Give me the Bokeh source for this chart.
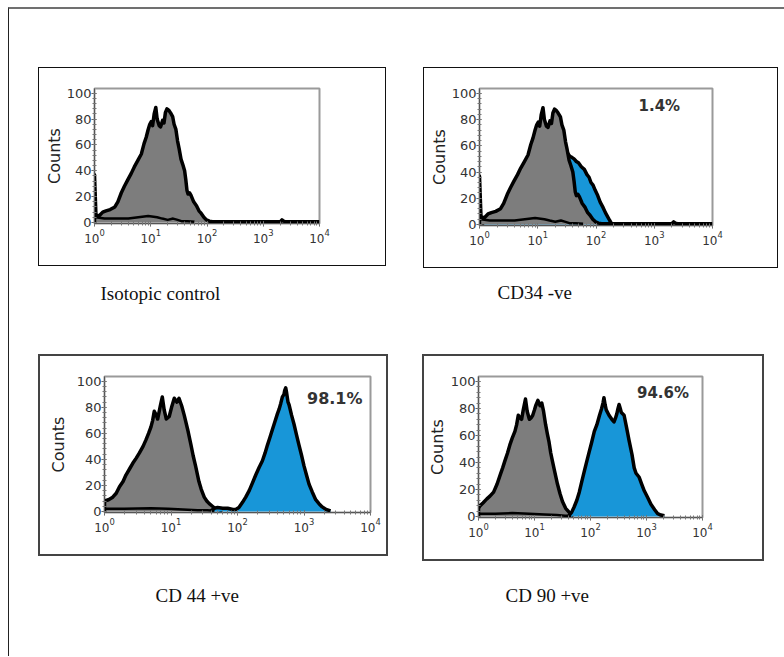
from bokeh.plotting import figure
from bokeh.layouts import column, row
from bokeh.models import Spacer, Label, Range1d, LogTicker, SingleIntervalTicker
from bokeh.embed import file_html
from bokeh.resources import INLINE

# ---------------- data (fluorescence intensity, counts) ----------------
iso_control = [(1.0, 0), (1.0, 37), (1.06, 6), (1.2, 5), (1.4, 8), (1.6, 9), (1.9, 10), (2.3, 12),
               (2.6, 16), (3.0, 23), (3.4, 28), (3.9, 33), (4.5, 38), (5.1, 43), (5.9, 48), (6.8, 53),
               (7.6, 61), (8.3, 66), (9.0, 72), (9.6, 76), (10.2, 78), (10.8, 75), (11.5, 84), (12.3, 89),
               (13.0, 80), (14.1, 75), (15.0, 74), (16.2, 79), (17.2, 77), (18.2, 85), (19.4, 88),
               (20.8, 87), (22.4, 85), (24.5, 82), (26.0, 76), (28.0, 72), (30.0, 63), (32.0, 57),
               (34.5, 49), (37.0, 45), (40.0, 40), (42.0, 33), (44.0, 25), (46.0, 22), (49.0, 23),
               (52.0, 21), (58.0, 16), (65.0, 13), (72.0, 9), (79.0, 7), (88.0, 4), (98.0, 2), (110, 1),
               (125, 0.5), (300, 0.5), (2000, 0.5), (2150, 2), (2300, 1), (2500, 0.5), (10000, 0.5)]
cd34 = [(1.1, 0), (1.2, 2), (2.0, 6), (3.2, 15), (7.9, 45), (15.8, 62), (28, 58), (33, 54), (35.5, 52),
        (39, 51), (42, 50), (46, 48), (50, 47), (56, 44), (63, 42), (70, 38), (76, 36), (82, 32), (89, 30),
        (97, 26), (107, 22), (118, 17), (132, 13), (145, 9), (158, 6), (172, 3), (186, 0.5)]
iso_cd44 = [(1.0, 0), (1.0, 8), (1.15, 9), (1.33, 11), (1.5, 14), (1.68, 19), (1.9, 23), (2.1, 28),
            (2.4, 33), (2.66, 37), (3.0, 41), (3.35, 45), (3.8, 50), (4.2, 55), (4.6, 60), (5.0, 65),
            (5.3, 70), (5.6, 77), (6.0, 74), (6.3, 71), (6.9, 81), (7.4, 88), (7.9, 78), (8.5, 71),
            (9.4, 73), (10.2, 80), (11.2, 87), (12.3, 84), (13.2, 87), (14.5, 81), (15.8, 74), (17.8, 63),
            (20.0, 51), (21.5, 43), (23.4, 35), (26.3, 23), (28.5, 17), (31.6, 11), (34.5, 8), (37.6, 6),
            (42, 4), (47, 2), (53, 1.5), (60, 0.5)]
cd44 = [(40, 0.5), (45, 2.5), (50, 3), (60, 2.5), (71, 2.5), (85, 1.5), (94, 1.5), (105, 3), (119, 7),
        (133, 11), (150, 16), (168, 22), (188, 28), (212, 34), (237, 39), (260, 45), (282, 51), (308, 57),
        (335, 63), (365, 69), (398, 75), (425, 79), (447, 83), (473, 88), (500, 90), (513, 93), (531, 95),
        (545, 92), (556, 89), (575, 84), (596, 82), (650, 74), (708, 67), (770, 59), (841, 51), (920, 43),
        (1000, 35), (1090, 28), (1190, 21), (1330, 15), (1500, 9), (1680, 6), (1880, 3.5), (2150, 1.5),
        (2510, 0.5)]
iso_cd90 = [(1.0, 0), (1.0, 6), (1.07, 8), (1.2, 10), (1.41, 13), (1.6, 15), (1.86, 18), (2.15, 24),
            (2.45, 31), (2.7, 36), (2.95, 41), (3.3, 47), (3.63, 53), (4.0, 58), (4.47, 63), (4.8, 68),
            (5.13, 75), (5.5, 73), (5.89, 72), (6.3, 79), (6.9, 87), (7.4, 78), (8.1, 72), (8.7, 73),
            (9.3, 75), (10.0, 79), (10.5, 82), (11.5, 86), (12.6, 82), (13.5, 84), (14.5, 78), (15.8, 68),
            (17.0, 61), (18.2, 55), (19.5, 47), (20.9, 41), (23.0, 33), (25.7, 24), (28.5, 17),
            (31.6, 11), (36, 6), (41.7, 3), (46, 1.5), (50, 0.5)]
cd90 = [(41, 0.5), (46, 3), (51, 7), (57, 12), (63, 18), (70, 26), (78, 34), (86, 41), (95, 48), (105, 55),
        (117, 63), (130, 68), (145, 75), (158, 80), (167, 84), (174, 88), (182, 83), (191, 79), (214, 75),
        (240, 72), (263, 70), (280, 73), (295, 76), (310, 80), (324, 83), (340, 80), (355, 77), (398, 75),
        (440, 66), (490, 56), (550, 46), (603, 36), (650, 32), (741, 29), (820, 24), (912, 19), (1050, 14),
        (1200, 9), (1400, 5), (1585, 2), (1800, 1), (2090, 0.5)]
base_12 = [(1.05, 4), (1.5, 3), (2.5, 3), (4, 3), (6, 4), (9, 5), (13, 4), (16, 3), (20, 2), (25, 3),
           (30, 2), (35, 1), (45, 1), (60, 0.5)]
base_3 = [(1.0, 2), (2, 2), (5, 2.5), (9, 2), (15, 1.5), (25, 1), (35, 1), (45, 0.5)]
base_4 = [(1.0, 2), (2, 2), (4, 2.5), (8, 2), (15, 1.5), (25, 1), (35, 0.5), (45, 0.5)]

captions = ["Isotopic control", "CD34 -ve", "CD 44 +ve", "CD 90 +ve"]
percents = ["", "1.4%", "98.1%", "94.6%"]
percent_pos = [None, (537, 90), (1110, 87), (675, 91.5)]
x_limits = (1, 10000)
y_limits = (-0.8, 103.7)

GRAY = "#7d7d7d"
BLUE = "#1896d8"


def unzip(pairs):
    return [a for a, _ in pairs], [b for _, b in pairs]


def panel(w, h, borders, layers, base, border_css, pct, pct_xy, pct_size, label_standoff):
    p = figure(width=w, height=h, x_axis_type="log",
               x_range=Range1d(*x_limits), y_range=Range1d(*y_limits),
               output_backend="svg", toolbar_location=None,
               min_border_left=borders[0], min_border_right=borders[1],
               min_border_top=borders[2], min_border_bottom=borders[3],
               styles={"border": border_css, "box-sizing": "border-box"})
    p.grid.visible = False
    p.outline_line_color = "#9a9a9a"
    p.outline_line_width = 2
    for pairs, color in layers:
        xs, ys = unzip(pairs)
        p.varea(x=xs, y1=0, y2=ys, fill_color=color)
        p.line(xs, ys, line_color="black", line_width=3.5, line_join="round")
    bx, by = unzip(base)
    p.line(bx, by, line_color="black", line_width=2.5)

    p.xaxis.ticker = LogTicker(mantissas=[1], num_minor_ticks=10)
    p.yaxis.ticker = SingleIntervalTicker(interval=20, num_minor_ticks=5)
    for ax in (p.xaxis[0], p.yaxis[0]):
        ax.axis_line_color = "#555"
        ax.major_tick_line_color = "#555"
        ax.minor_tick_line_color = "#777"
        ax.major_tick_in = 2
        ax.major_tick_out = 3
        ax.minor_tick_in = 2
        ax.minor_tick_out = 2
        ax.major_label_text_font = "DejaVu Sans"
        ax.major_label_text_color = "#333"
    p.xaxis.major_label_standoff = 2
    p.yaxis.major_label_standoff = 0
    p.xaxis.major_label_text_font_size = "12px"
    p.yaxis.major_label_text_font_size = "13px"
    p.yaxis.axis_label = "Counts"
    p.yaxis.axis_label_text_font = "DejaVu Sans"
    p.yaxis.axis_label_text_font_size = "16px"
    p.yaxis.axis_label_text_font_style = "normal"
    p.yaxis.axis_label_text_color = "#222"
    p.yaxis.axis_label_standoff = label_standoff
    if pct:
        p.add_layout(Label(x=pct_xy[0], y=pct_xy[1], text=pct, text_font="DejaVu Sans",
                           text_font_style="bold", text_font_size=pct_size, text_color="#333",
                           text_baseline="middle", text_align="left"))
    return p


def strip(w, h, items):
    s = figure(width=w, height=h, x_range=Range1d(0, w), y_range=Range1d(0, h),
               output_backend="svg", toolbar_location=None,
               x_axis_location=None, y_axis_location=None, min_border=0,
               outline_line_color=None)
    s.grid.visible = False
    for text, x, y in items:
        s.add_layout(Label(x=x, y=y, text=text, text_font="Liberation Serif",
                           text_font_size="19px", text_color="#111",
                           text_baseline="middle", text_align="left"))
    return s


p1 = panel(348, 199, (55, 68, 17, 43), [(iso_control, GRAY)], base_12,
           "1px solid #111", percents[0], percent_pos[0], "15px", 0)
p2 = panel(355, 201, (55, 67, 20, 44), [(cd34, BLUE), (iso_control, GRAY)], base_12,
           "1px solid #111", percents[1], percent_pos[1], "15px", 0)
p3 = panel(350, 202, (64, 20, 20, 34), [(iso_cd44, GRAY), (cd44, BLUE)], base_3,
           "2px solid #444", percents[2], percent_pos[2], "16px", 6)
p4 = panel(342, 207, (53, 64, 20, 46), [(iso_cd90, GRAY), (cd90, BLUE)], base_4,
           "2px solid #444", percents[3], percent_pos[3], "15px", 1)

cap1 = strip(775, 86, [(captions[0], 91, 61), (captions[1], 488, 62)])
cap2 = strip(775, 95, [(captions[2], 146, 61), (captions[3], 496, 61)])

row1 = row(Spacer(width=29, height=10), p1, Spacer(width=37, height=10), p2)
row2 = row(Spacer(width=29, height=10), p3, Spacer(width=34, height=10), p4)

framed = column(Spacer(width=10, height=58), row1, cap1, row2, cap2,
                styles={"border-top": "2px solid #707070", "border-left": "1px solid #222"})

page = column(Spacer(width=10, height=7), row(Spacer(width=8, height=10), framed))

open("out.html", "w").write(file_html(page, INLINE))
